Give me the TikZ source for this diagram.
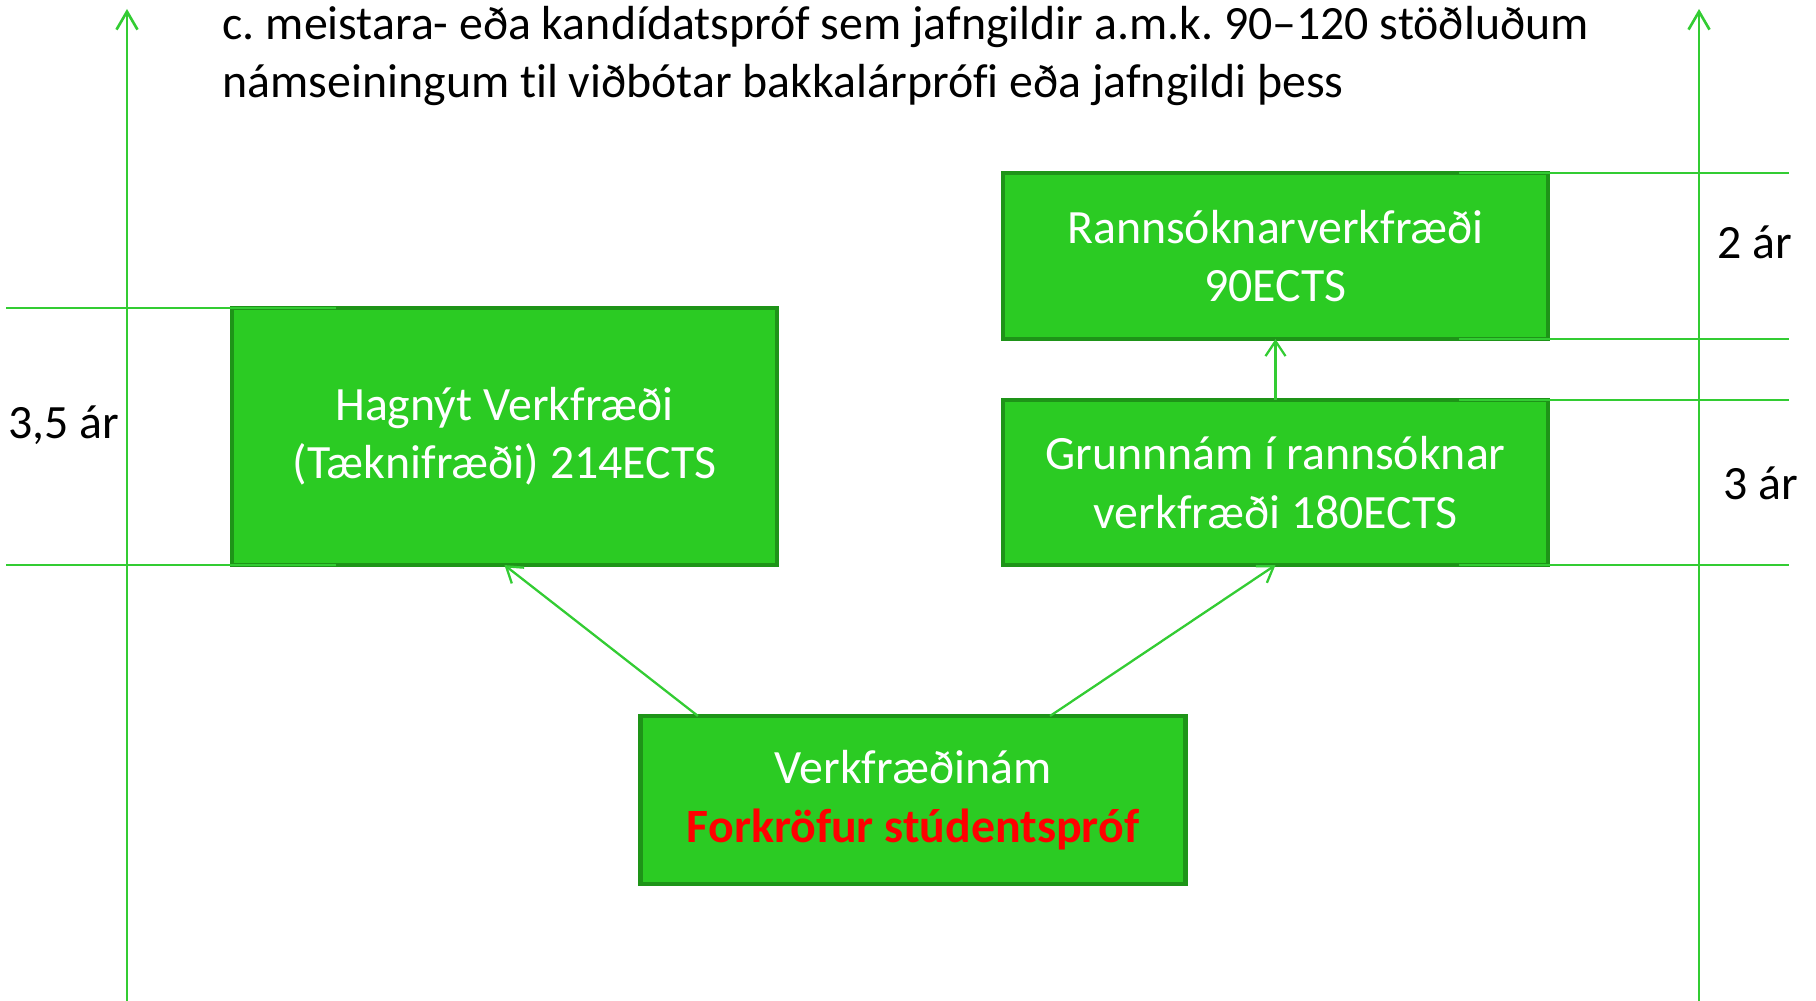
\documentclass[tikz,border=0pt]{standalone}
\usepackage{fontspec}
\setmainfont{Carlito}[Ligatures=CommonOff]
\usetikzlibrary{arrows.meta}
\definecolor{boxgreen}{RGB}{43,203,35}
\definecolor{edgegreen}{RGB}{30,148,24}
\definecolor{linegreen}{RGB}{51,204,51}
\frenchspacing
\tikzset{
  stage/.style={draw=edgegreen, fill=boxgreen, line width=1.3pt, text=white,
    minimum width=5.45cm, inner sep=0pt, outer sep=0pt, align=center,
    font=\fontsize{13.6}{16.6}\selectfont},
  guide/.style={draw=linegreen, line width=0.6pt},
  axisarrow/.style={draw=linegreen, line width=0.75pt,
    -{Straight Barb[length=0.18cm,width=0.21cm]}},
  steparrow/.style={draw=linegreen, line width=0.65pt,
    -{Straight Barb[length=0.15cm,width=0.2cm]}},
  yearlabel/.style={font=\fontsize{13.6}{16.6}\selectfont}
}
\begin{document}
\begin{tikzpicture}[x=0.01cm,y=-0.01cm]
  \useasboundingbox (0,0) rectangle (1816,1001);
  % axes
  \coordinate (lbot) at (127,1001);
  \coordinate (ltop) at (127,9);
  \coordinate (rbot) at (1699,1001);
  \coordinate (rtop) at (1699,9);
  \draw[axisarrow] (lbot) -- (ltop);
  \draw[axisarrow] (rbot) -- (rtop);
  % boxes
  \node[stage, minimum height=2.57cm] (hagnyt) at (504.5,436.5)
    {Hagnýt Verkfræði\\(Tæknifræði) 214ECTS};
  \node[stage, minimum height=1.66cm] (rannsokn) at (1275.5,256)
    {Rannsóknarverkfræði\\90ECTS};
  \node[stage, minimum height=1.65cm] (grunn) at (1275.5,482.5)
    {Grunnnám í rannsóknar\\verkfræði 180ECTS};
  \node[stage, minimum height=1.68cm] (nam) at (913,800)
    {Verkfræðinám\\\textcolor{red}{\bfseries Forkröfur stúdentspróf}};
  % guide lines
  \foreach \y in {308,565}
    \draw[guide] (6,\y) -- (336,\y);
  \foreach \y in {173,339,400,565}
    \draw[guide] (1459,\y) -- (1789,\y);
  % arrows
  \draw[steparrow] ([xshift=-2.15cm]nam.north) -- (hagnyt.south);
  \draw[steparrow] ([xshift=1.37cm]nam.north) -- (grunn.south);
  \draw[steparrow] (grunn.north) -- (rannsokn.south);
  % labels
  \node[yearlabel] (ar35) at (64,425) {3,5 ár};
  \node[yearlabel] (ar2) at (1755,242) {2 ár};
  \node[yearlabel] (ar3) at (1761,483) {3 ár};
  \node[anchor=west, align=left, inner sep=0pt,
    font=\fontsize{13.6}{16.6}\selectfont] (skilyrdi) at (222,56)
    {c. meistara- eða kandídatspróf sem jafngildir a.m.k. 90–120 stöðluðum\\
     námseiningum til viðbótar bakkalárprófi eða jafngildi þess};
\end{tikzpicture}
\end{document}
